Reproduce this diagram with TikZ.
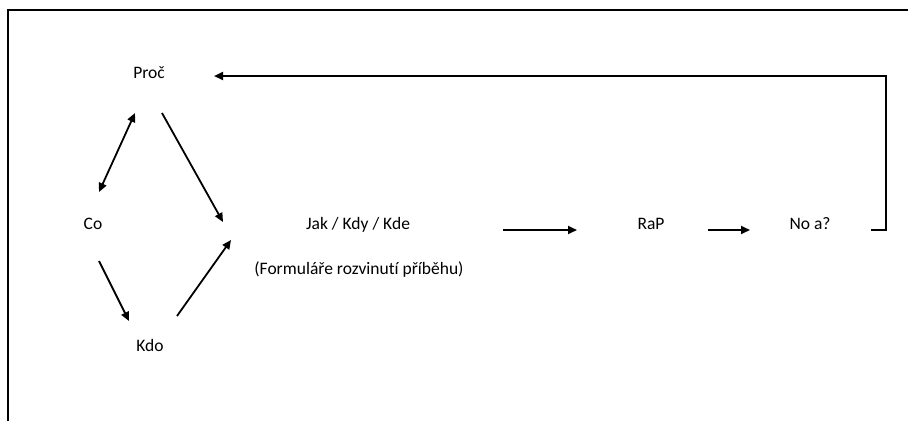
\documentclass[tikz,border=0pt]{standalone}
\usepackage{fontspec}
\setmainfont[Ligatures={NoCommon}]{Carlito}
\usetikzlibrary{arrows.meta}
\begin{document}
\begin{tikzpicture}[x=1pt,y=-1pt,
  lbl/.style={font=\fontsize{17.5}{21}\selectfont, inner sep=0pt, anchor=base},
  arr/.style={line width=1.8pt, -{Triangle[length=9pt,width=8pt]}},
  twoway/.style={line width=1.8pt, {Triangle[length=9pt,width=8pt]}-{Triangle[length=9pt,width=8pt]}},
  loop/.style={line width=2.2pt, -{Triangle[length=9pt,width=8pt]}},
  frame/.style={line width=1.3pt}]
  \useasboundingbox (0,0) rectangle (908,421);
  % page frame
  \draw[frame] (8,421) -- (8,10) -- (910,10);

  % labels (\kern0pt keeps "t" and "í" as separate glyphs)
  \node[lbl] (proc) at (149,78) {Proč};
  \node[lbl] (co)   at (93,229)  {Co};
  \node[lbl] (kdo)  at (150,351) {Kdo};
  \node[lbl] (jak)  at (358,229) {Jak / Kdy / Kde};
  \node[lbl] (form) at (359,274) {(Formuláře rozvinut\kern0pt í příběhu)};
  \node[lbl] (rap)  at (651,229) {RaP};
  \node[lbl] (noa)  at (810,229) {No a?};

  % connectors
  \draw[twoway] ([shift={(-14,35)}]proc.base) -- ([shift={(6,-37)}]co.base);
  \draw[arr] ([shift={(13,35)}]proc.base) -- ([shift={(-135,-7)}]jak.base);
  \draw[arr] ([shift={(6,32)}]co.base) -- ([shift={(-21,-30)}]kdo.base);
  \draw[arr] ([shift={(27,-35)}]kdo.base) -- ([shift={(-127,11)}]jak.base);
  \draw[arr] ([shift={(145,1)}]jak.base) -- ([shift={(-74,1)}]rap.base);
  \draw[arr] ([shift={(57,1)}]rap.base) -- ([shift={(-60,1)}]noa.base);
  \coordinate (turnlow) at (886,230);
  \coordinate (turnhigh) at (886,76);
  \draw[loop] ([shift={(61,1)}]noa.base) -- (turnlow) -- (turnhigh) -- ([shift={(65,-2)}]proc.base);
\end{tikzpicture}
\end{document}
